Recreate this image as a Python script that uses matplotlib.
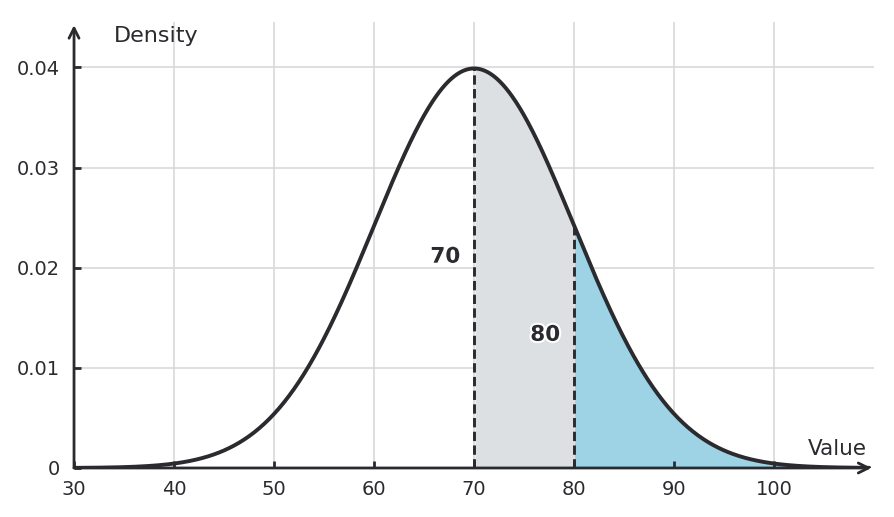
import numpy as np
import matplotlib.pyplot as plt
import matplotlib.patheffects as pe

plt.rcParams['font.family'] = ['DejaVu Sans']

# Distribution parameters
mu = 70
sigma = 10
x_min, x_max = 30, 110
mark_lo, mark_hi = 70, 80
x_ticks = [30, 40, 50, 60, 70, 80, 90, 100]
y_ticks = [0, 0.01, 0.02, 0.03, 0.04]
y_tick_labels = ['0', '0.01', '0.02', '0.03', '0.04']

dark = '#2b2b2f'
grid_col = '#d9d9d9'
grey_fill = '#dce0e3'
blue_fill = '#9dd3e4'


def pdf(x):
    return np.exp(-0.5 * ((x - mu) / sigma) ** 2) / (sigma * np.sqrt(2 * np.pi))


x = np.linspace(x_min, 109.5, 800)
y = pdf(x)

fig = plt.figure(figsize=(8.94, 5.17), dpi=100)
ax = fig.add_axes([0.0828, 0.0948, 0.895, 0.862])
ax.set_xlim(x_min, 110)
ax.set_ylim(0, 0.0445)

for s in ax.spines.values():
    s.set_visible(False)

# grid
for xv in x_ticks[1:]:
    ax.axvline(xv, color=grid_col, lw=1.2, zorder=0)
for yv in y_ticks[1:]:
    ax.axhline(yv, color=grid_col, lw=1.2, zorder=0)

# shaded regions
m1 = (x >= mark_lo) & (x <= mark_hi)
ax.fill_between(x[m1], 0, y[m1], color=grey_fill, lw=0, zorder=1)
m2 = x >= mark_hi
ax.fill_between(x[m2], 0, y[m2], color=blue_fill, lw=0, zorder=1)

# curve
ax.plot(x, y, color=dark, lw=2.8, zorder=4, solid_capstyle='round')

# dashed markers
for v in [mark_lo, mark_hi]:
    ax.plot([v, v], [0, pdf(v)], color=dark, lw=2.1, ls=(0, (3.2, 1.5)), zorder=3)

outline = [pe.withStroke(linewidth=3, foreground='white')]
ax.text(68.6, 0.0211, '70', ha='right', va='center', fontsize=15.5,
        fontweight='bold', color=dark, path_effects=outline, zorder=5)
ax.text(78.6, 0.0133, '80', ha='right', va='center', fontsize=15.5,
        fontweight='bold', color=dark, path_effects=outline, zorder=5)

# axes arrows
ax.annotate('', xy=(110, 0), xytext=(x_min - 0.3, 0),
            arrowprops=dict(arrowstyle='->', color=dark, lw=2, mutation_scale=18),
            annotation_clip=False, zorder=6)
ax.annotate('', xy=(x_min, 0.0445), xytext=(x_min, -0.0002),
            arrowprops=dict(arrowstyle='->', color=dark, lw=2, mutation_scale=18),
            annotation_clip=False, zorder=6)

ax.set_xticks(x_ticks)
ax.set_yticks(y_ticks)
ax.set_yticklabels(y_tick_labels)
ax.tick_params(direction='in', length=5, width=2, color=dark,
               labelsize=14, labelcolor=dark)
ax.tick_params(axis='y', pad=10)
ax.tick_params(axis='x', pad=9)

ax.text(34, 0.0431, 'Density', fontsize=16, color=dark, va='center', ha='left')
ax.text(109.3, 0.0019, 'Value', fontsize=15.5, color=dark, va='center', ha='right')

fig.savefig('out.png', dpi=100)
